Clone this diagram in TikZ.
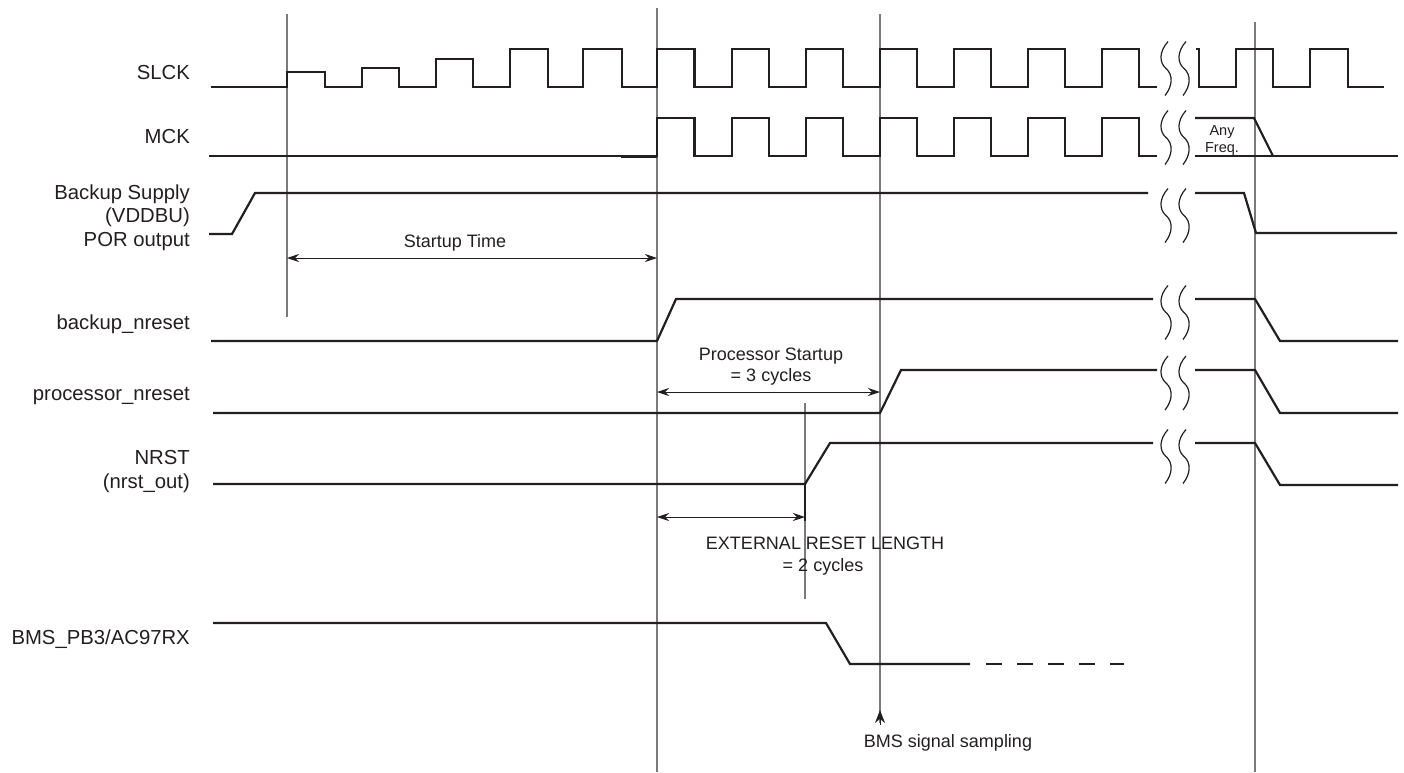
\documentclass[tikz,border=0pt]{standalone}
\usepackage{fontspec}
\setmainfont{Liberation Sans}
\usetikzlibrary{arrows.meta}
\definecolor{ink}{HTML}{231F20}
\definecolor{guide}{HTML}{7A7A7A}
\tikzset{
  sig/.style={draw=ink,line width=2.2pt,line join=miter},
  guideline/.style={draw=guide,line width=1.1pt},
  dimarrow/.style={draw=ink,line width=1pt,{Stealth[length=12pt,width=8pt]}-{Stealth[length=12pt,width=8pt]}},
  squigline/.style={draw=ink,line width=1.2pt},
  lbl/.style={anchor=base east,inner sep=0pt,text=ink,font=\fontsize{20.3}{24}\selectfont},
  ann/.style={anchor=base,inner sep=0pt,text=ink,font=\fontsize{18}{22}\selectfont},
  small/.style={anchor=base,inner sep=0pt,text=ink,font=\fontsize{14.5}{17}\selectfont},
  brk/.pic={\draw[squigline] (2,-27) .. controls (-7,-17) and (-7,-6) .. (0,0) .. controls (7,6) and (7,17) .. (-1,27);}
}
\begin{document}
\begin{tikzpicture}[x=1pt,y=-1pt]
\useasboundingbox[fill=white] (0,0) rectangle (1404,772);

% ---- named time coordinates ----
\coordinate (t0top) at (287,14);   \coordinate (t0bot) at (287,317);
\coordinate (t1top) at (657,8);    \coordinate (t1bot) at (657,772);
\coordinate (t2top) at (880,14);   \coordinate (t2bot) at (880,723);
\coordinate (t3top) at (805,403);  \coordinate (t3bot) at (805,599);
\coordinate (t4top) at (1255,22);  \coordinate (t4bot) at (1255,772);

% ---- guide lines ----
\draw[guideline] (t0top) -- (t0bot);
\draw[guideline] (t1top) -- (t1bot);
\draw[guideline] (t2top) -- (t2bot);
\draw[guideline] (t3top) -- (t3bot);
\draw[guideline] (t4top) -- (t4bot);
\draw[ink,line width=2pt] (805,484) -- (805,521);
\coordinate (samp) at (880,710);
\draw[ink,line width=1pt,-{Stealth[length=13pt,width=10pt]}] (880,725) -- (samp);

% ---- labels ----
\node[lbl] (lslck) at (190,79) {SLCK};
\node[lbl] (lmck) at (190,143) {MCK};
\node[lbl] (lbu1) at (190,199) {Backup Supply};
\node[lbl] (lbu2) at (190,222.5) {(VDDBU)};
\node[lbl] (lbu3) at (190,246) {POR output};
\node[lbl] (lbnr) at (190,329) {backup\_nreset};
\node[lbl] (lpnr) at (190,400) {processor\_nreset};
\node[lbl] (lnrst1) at (190,464) {NRST};
\node[lbl] (lnrst2) at (190,488.5) {(nrst\_out)};
\node[lbl] (lbms) at (190,644) {BMS\_PB3/AC97RX};

% ---- SLCK ----
\draw[sig] (211,87) -| (287,72) -| (325,87) -| (362,68) -| (399,87) -| (436,59) -| (473,87)
  -| (510,49) -| (548,87) -| (583,49) -| (622,87) -| (657,49) -| (694.5,87)
  -| (732,49) -| (769,87) -| (806,49) -| (843,87) -| (880,49) -| (917,87)
  -| (954,49) -| (991,87) -| (1028,49) -| (1065,87) -| (1102,49) -| (1139,87) -- (1157,87);
\draw[sig] (1196,49) -| (1199,87) -| (1236,49) -| (1273,87) -| (1310,49) -| (1348,87) -- (1384,87);

% ---- MCK ----
\draw[sig] (209,156) -| (657,118) -| (694.5,156) -| (732,118) -| (769,156) -| (806,118) -| (843,156)
  -| (880,118) -| (917,156) -| (954,118) -| (991,156) -| (1028,118) -| (1065,156)
  -| (1102,118) -| (1139,156) -- (1157,156);
\draw[ink,line width=3pt] (621,156) -- (657,156);
\draw[sig] (1195,118) -- (1254,118) -- (1273,156);
\draw[sig] (1195,156) -- (1398,156);
\node[small] (anyf1) at (1222,135) {Any};
\node[small] (anyf2) at (1222,152) {Freq.};

% ---- Backup supply ----
\draw[sig] (209,234) -- (232,234) -- (255,193) -- (1148,193);
\draw[sig] (1195,193) -- (1244,193) -- (1256,233) -- (1397,233);

% ---- backup_nreset ----
\draw[sig] (211,341) -- (657,341) -- (676,299) -- (1153,299);
\draw[sig] (1195,299) -- (1255,299) -- (1280,341) -- (1398,341);

% ---- processor_nreset ----
\draw[sig] (213,413) -- (880,413) -- (901,370) -- (1157,370);
\draw[sig] (1195,370) -- (1255,370) -- (1280,413) -- (1398,413);

% ---- NRST ----
\draw[sig] (213,484) -- (805,484) -- (830,443) -- (1153,443);
\draw[sig] (1195,443) -- (1255,443) -- (1280,485) -- (1398,485);

% ---- BMS ----
\draw[sig] (213,623) -- (826,623) -- (850,664) -- (970,664);
\draw[sig,dash pattern=on 16pt off 15pt] (986,664) -- (1124,664);

% ---- breaks ----
\foreach \yc in {68.5,137.5,215.5,312.5,383,456.5}{
  \pic at (1166,\yc) {brk};
  \pic at (1184,\yc) {brk};
}

% ---- dimension arrows ----
\coordinate (sa) at (287,258); \coordinate (sb) at (657,258);
\draw[dimarrow] (sa) -- (sb);
\node[ann] (tstart) at (455,247) {Startup Time};

\coordinate (pa) at (657,392); \coordinate (pb) at (880,392);
\draw[dimarrow] (pa) -- (pb);
\node[ann] (tproc1) at (771,360) {Processor Startup};
\node[ann] (tproc2) at (771,381.5) {= 3 cycles};

\coordinate (ea) at (657,517); \coordinate (eb) at (805,517);
\draw[dimarrow] (ea) -- (eb);
\node[ann] (text1) at (825,549) {EXTERNAL RESET LENGTH};
\node[ann] (text2) at (823,571) {= 2 cycles};

\node[ann] (tbms) at (948,747) {BMS signal sampling};
\end{tikzpicture}
\end{document}
